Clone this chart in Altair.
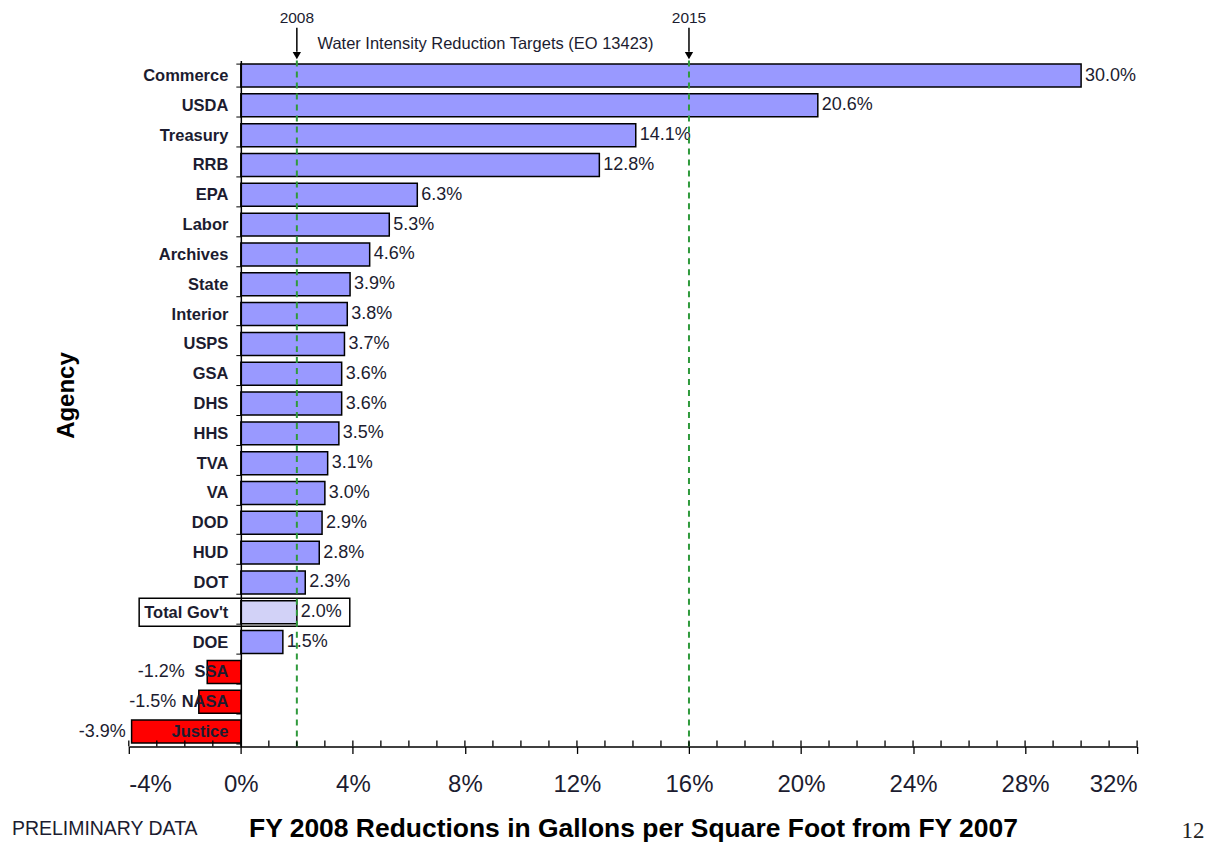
import altair as alt
import pandas as pd

agencies = ["Commerce", "USDA", "Treasury", "RRB", "EPA", "Labor", "Archives", "State",
            "Interior", "USPS", "GSA", "DHS", "HHS", "TVA", "VA", "DOD", "HUD", "DOT",
            "Total Gov't", "DOE", "SSA", "NASA", "Justice"]
values = [30.0, 20.6, 14.1, 12.8, 6.3, 5.3, 4.6, 3.9, 3.8, 3.7, 3.6, 3.6, 3.5, 3.1,
          3.0, 2.9, 2.8, 2.3, 2.0, 1.5, -1.2, -1.5, -3.9]

target_years = ["2008", "2015"]
target_values = [2, 16]

major_ticks = [-4, 0, 4, 8, 12, 16, 20, 24, 28, 32]
minor_ticks = list(range(-4, 33))

total_box_x = [-3.63, 3.89]

W, H = 1010, 687
XMIN, XMAX = -4, 32
FONT = "Liberation Sans"
TXT = "#1c1c30"

df = pd.DataFrame({"agency": agencies, "value": values})
df["group"] = ["total" if a == "Total Gov't" else ("neg" if v < 0 else "pos")
               for a, v in zip(agencies, values)]
df["label"] = [f"{v:.1f}%" for v in values]

tgt = pd.DataFrame({"year": target_years, "target": target_values})
minor = pd.DataFrame({"t": minor_ticks})
box = pd.DataFrame({"agency": ["Total Gov't"], "x0": [total_box_x[0]], "x1": [total_box_x[1]]})

xscale = alt.Scale(domain=[XMIN, XMAX], nice=False, zero=False)
yscale = alt.Scale(domain=agencies, paddingInner=0.23, paddingOuter=0.115)

x_axis = alt.Axis(values=major_ticks, labelExpr="datum.value + '%'", grid=False,
                  tickSize=7, tickColor="black", domainColor="black", domainWidth=1.5,
                  tickWidth=1.3, labelFontSize=24, labelFont=FONT, labelColor=TXT,
                  labelPadding=19,
                  title="FY 2008 Reductions in Gallons per Square Foot from FY 2007",
                  titleFont=FONT, titleFontSize=26.5, titleFontWeight="bold",
                  titleColor="black", titlePadding=19)
y_axis = alt.Axis(offset=-(0 - XMIN) / (XMAX - XMIN) * W, tickBand="extent", grid=False,
                  tickSize=5, tickColor="black", domainColor="black", domainWidth=1.5,
                  labelFont=FONT, labelFontSize=16.5, labelFontWeight="bold",
                  labelColor=TXT, labelPadding=8, zindex=1,
                  title="Agency", titleFont=FONT, titleFontSize=24,
                  titleFontWeight="bold", titleColor="black",
                  titleX=-175, titleY=335, titleAngle=270,
                  titleAlign="center", titleBaseline="middle")

X = alt.X("value:Q", scale=xscale, axis=x_axis)
Y = alt.Y("agency:N", scale=yscale, axis=y_axis, sort=agencies)

box_layer = alt.Chart(box).mark_bar(height=28, fill="white", stroke="black",
                                    strokeWidth=1.5).encode(
    x=alt.X("x0:Q", scale=xscale, axis=x_axis),
    x2="x1:Q",
    y=Y,
)

bars = alt.Chart(df).mark_bar(stroke="black", strokeWidth=1.5).encode(
    x=X,
    y=Y,
    fill=alt.Fill("group:N",
                  scale=alt.Scale(domain=["pos", "neg", "total"],
                                  range=["#9999ff", "#ff0000", "#d2d2f7"]),
                  legend=None),
)

pos_labels = alt.Chart(df).transform_filter("datum.value >= 0").mark_text(
    align="left", baseline="middle", dx=4, fontSize=18, font=FONT, color=TXT
).encode(x=X, y=Y, text="label:N")

neg_labels = alt.Chart(df).transform_filter("datum.value < 0").transform_calculate(
    lx="max(datum.value - 0.7, -4)"
).mark_text(
    align="right", baseline="middle", dx=-3, fontSize=18, font=FONT, color=TXT
).encode(x=alt.X("lx:Q", scale=xscale, axis=x_axis), y=Y, text="label:N")

green = alt.Chart(tgt).mark_rule(color="#2f9a3c", strokeWidth=2, strokeDash=[6, 5]).encode(
    x=alt.X("target:Q", scale=xscale, axis=x_axis)
)

shafts = alt.Chart(tgt).mark_rule(color="black", strokeWidth=1.5).encode(
    x=alt.X("target:Q", scale=xscale, axis=x_axis),
    y=alt.value(-33), y2=alt.value(-9)
)
heads = alt.Chart(tgt).mark_point(shape="triangle-down", filled=True, color="black",
                                  size=70, opacity=1).encode(
    x=alt.X("target:Q", scale=xscale, axis=x_axis),
    y=alt.value(-5)
)
years = alt.Chart(tgt).mark_text(fontSize=15.5, font=FONT, color=TXT, baseline="middle").encode(
    x=alt.X("target:Q", scale=xscale, axis=x_axis),
    y=alt.value(-43),
    text="year:N"
)

minor_layer = alt.Chart(minor).mark_tick(
    orient="vertical", color="black", thickness=1.3, size=6, opacity=1
).encode(
    x=alt.X("t:Q", scale=xscale, axis=x_axis),
    y=alt.value(H - 3)
)

notes = pd.DataFrame({"txt": ["Water Intensity Reduction Targets (EO 13423)"]})
water = alt.Chart(notes).mark_text(fontSize=16.5, font=FONT, color=TXT, align="left",
                                   baseline="middle").encode(
    x=alt.value(189), y=alt.value(-17), text="txt:N")

prelim = alt.Chart(pd.DataFrame({"txt": ["PRELIMINARY DATA"]})).mark_text(
    fontSize=19.5, font=FONT, color=TXT, align="left", baseline="middle").encode(
    x=alt.value(-117), y=alt.value(770), text="txt:N")

page = alt.Chart(pd.DataFrame({"txt": ["12"]})).mark_text(
    fontSize=23, font="Liberation Serif", color="#222222", align="center",
    baseline="middle").encode(
    x=alt.value(1066), y=alt.value(772), text="txt:N")

chart = alt.layer(
    box_layer, bars, pos_labels, neg_labels, green, shafts, heads, years,
    minor_layer, water, prelim, page
).properties(
    width=W, height=H,
    background="white",
    autosize=alt.AutoSizeParams(type="none"),
    padding={"left": 121, "top": 52, "right": 70, "bottom": 98},
).configure_view(strokeWidth=0, stroke="transparent")

chart.save("out.html", embed_options={"renderer": "svg", "actions": False})
